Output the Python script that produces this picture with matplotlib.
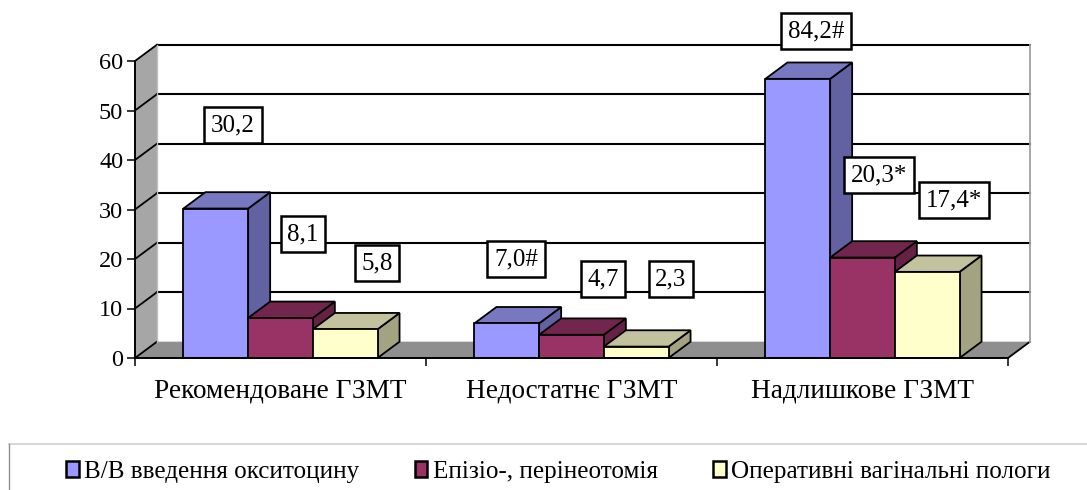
import matplotlib
matplotlib.use("Agg")
import matplotlib.pyplot as plt
from matplotlib.patches import Polygon, Patch
from matplotlib.lines import Line2D

categories = ["Рекомендоване ГЗМТ", "Недостатнє ГЗМТ", "Надлишкове ГЗМТ"]
series_names = ["В/В введення окситоцину", "Епізіо-, перінеотомія", "Оперативні вагінальні пологи"]
oxytocin = [30.2, 7.0, 84.2]
episiotomy = [8.1, 4.7, 20.3]
operative = [5.8, 2.3, 17.4]
oxytocin_labels = ["30,2", "7,0#", "84,2#"]
episiotomy_labels = ["8,1", "4,7", "20,3*"]
operative_labels = ["5,8", "2,3", "17,4*"]
yticks = [0, 10, 20, 30, 40, 50, 60]

# Label centres in picture pixels, same order as the lists above.
oxytocin_pos = [(233, 125), (516, 259), (816, 31)]
episiotomy_pos = [(303, 234), (603, 279), (879, 175)]
operative_pos = [(377, 263), (671, 279), (954, 200)]

front_cols = ["#9999FF", "#993366", "#FFFFCC"]
top_cols = ["#7878C0", "#73264D", "#C2C29E"]
side_cols = ["#6262A2", "#662244", "#A3A382"]

W, H = 1087, 490
left, right, bottom, top = 135, 1008, 358, 61

fig = plt.figure(figsize=(W / 100, H / 100), dpi=100)
plt.rcParams["font.family"] = ["Liberation Serif", "DejaVu Serif"]
ax = fig.add_axes([left / W, 1 - bottom / H, (right - left) / W, (bottom - top) / H])
ax.set_xlim(0, 3)
ax.set_ylim(0, 60)
ax.patch.set_visible(False)

# Depth of the fake 3D box, in data units.
dx = 22 / 291
dy = 3.3
bar_w = 64.7 / 291
clip_top = 56.4  # tallest bar is cut by the axis


def poly(pts, color, z, edge="black", lw=1.3):
    ax.add_patch(Polygon(pts, closed=True, facecolor=color, edgecolor=edge,
                         linewidth=lw, zorder=z, clip_on=False, joinstyle="miter"))


# Walls.
poly([(0, 0), (dx, dy), (dx, 60 + dy), (0, 60)], "#A6A6A6", 1, edge="none")
poly([(0, 0), (3, 0), (3 + dx, dy), (dx, dy)], "#8F8F8F", 1, edge="none")
for v in yticks:
    ax.plot([0, dx], [v, v + dy], color="black", lw=1.3, zorder=2, clip_on=False)
    if v > 0:
        ax.plot([dx, 3 + dx], [v + dy, v + dy], color="black", lw=1.5, zorder=2, clip_on=False)
ax.plot([3, 3 + dx], [0, dy], color="black", lw=1.3, zorder=2, clip_on=False)
ax.plot([3 + dx, 3 + dx], [dy, 60 + dy], color="#A0A0A0", lw=1.3, zorder=2, clip_on=False)
ax.plot([dx, dx], [dy, 60 + dy], color="#C0C0C0", lw=1, zorder=2, clip_on=False)

# Bars.
z = 3
for i in range(3):
    start = i + 0.5 - 1.5 * bar_w
    for j, vals in enumerate([oxytocin, episiotomy, operative]):
        v = min(vals[i], clip_top)
        x0 = start + j * bar_w
        x1 = x0 + bar_w
        poly([(x1, 0), (x1 + dx, dy), (x1 + dx, v + dy), (x1, v)], side_cols[j], z)
        poly([(x0, v), (x1, v), (x1 + dx, v + dy), (x0 + dx, v + dy)], top_cols[j], z)
        poly([(x0, 0), (x1, 0), (x1, v), (x0, v)], front_cols[j], z)
        z += 1

# Axes.
for s in ["top", "right"]:
    ax.spines[s].set_visible(False)
for s in ["left", "bottom"]:
    ax.spines[s].set_linewidth(1.4)
    ax.spines[s].set_zorder(20)
ax.set_yticks(yticks)
ax.tick_params(axis="y", length=5.5, width=1.1, labelsize=17.5, pad=3)
ax.set_xticks([0, 1, 2, 3], minor=True)
ax.set_xticks([0.5, 1.5, 2.5])
ax.set_xticklabels(categories)
ax.tick_params(axis="x", which="major", length=0, labelsize=19.6, pad=15)
ax.tick_params(axis="x", which="minor", length=6, width=1.1)

# Value boxes.
for labels, positions in [(oxytocin_labels, oxytocin_pos),
                          (episiotomy_labels, episiotomy_pos),
                          (operative_labels, operative_pos)]:
    for lab, (px, py) in zip(labels, positions):
        fig.text(px / W, 1 - py / H, lab, ha="center", va="center", fontsize=18, zorder=30,
                 bbox=dict(boxstyle="square,pad=0.27", facecolor="white", edgecolor="black", linewidth=1.8))

# Legend frame, runs off the picture at the right and bottom.
fig.add_artist(Line2D([9 / W, 1], [1 - 444 / H, 1 - 444 / H], color="#D0D0D0", lw=1.2))
fig.add_artist(Line2D([9 / W, 9 / W], [0, 1 - 444 / H], color="#909090", lw=1.0))
handles = [Patch(facecolor=c, edgecolor="black", linewidth=1.8) for c in front_cols]
fig.legend(handles, series_names, ncol=3, frameon=False, fontsize=18.1,
           loc="center left", bbox_to_anchor=(66 / W, 1 - 472 / H),
           handlelength=0.5, handleheight=0.6, handletextpad=0.22, columnspacing=2.2,
           borderpad=0, borderaxespad=0)

fig.savefig("out.png", dpi=100)
